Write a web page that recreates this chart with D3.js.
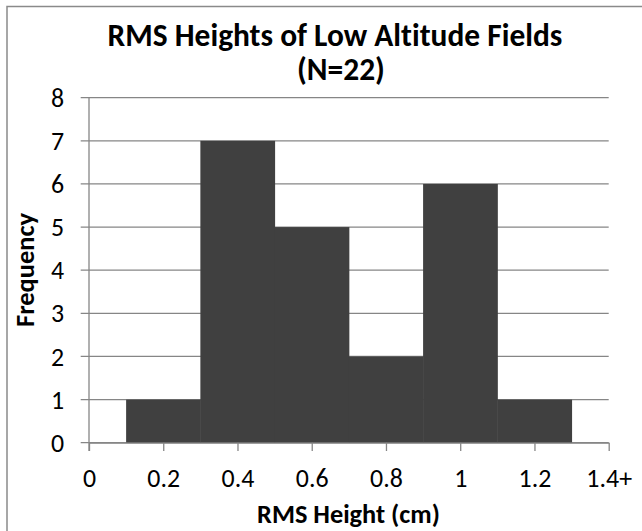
<!DOCTYPE html>
<html>
<head>
<meta charset="utf-8">
<script src="https://cdn.jsdelivr.net/npm/d3@7"></script>
<style>
  html, body { margin: 0; padding: 0; background: #fff; }
  svg { display: block; font-family: Carlito, Calibri, Lato, "Open Sans", sans-serif; font-variant-ligatures: none; }
</style>
</head>
<body>
<svg id="chart" width="642" height="531"></svg>
<script>
// Histogram bins: lower/upper edges and frequency of each bin
const binLower = [0.1, 0.3, 0.5, 0.7, 0.9, 1.1];
const binUpper = [0.3, 0.5, 0.7, 0.9, 1.1, 1.3];
const frequency = [1, 7, 5, 2, 6, 1];

// Axis ticks
const xTickValues = [0, 0.2, 0.4, 0.6, 0.8, 1.0, 1.2, 1.4];
const xTickLabels = ["0", "0.2", "0.4", "0.6", "0.8", "1", "1.2", "1.4+"];
const yTickValues = [0, 1, 2, 3, 4, 5, 6, 7, 8];

const titleLines = ["RMS Heights of Low Altitude Fields", "(N=22)"];
const xTitle = "RMS Height (cm)";
const yTitle = "Frequency";

const svg = d3.select("#chart");
const gridColor = "#868686";

// Text that is sized so its width fits a given span
function fitText(sel, width) {
  const w = sel.node().getComputedTextLength();
  const fs = parseFloat(sel.style("font-size"));
  sel.style("font-size", (fs * width / w) + "px");
  return sel.style("font-size");
}

// Tick label size: the widest label spans about 46px
const probe = svg.append("text").style("font-size", "20px").text(xTickLabels[xTickLabels.length - 1]);
const tickFont = fitText(probe, 45.7);
probe.remove();

// Plot area
const plotLeft = 89, plotRight = 608.7, plotTop = 97.7, plotBottom = 442.7;
const x = d3.scaleLinear().domain([0, 1.4]).range([plotLeft, plotRight]);
const y = d3.scaleLinear().domain([0, 8]).range([plotBottom, plotTop]);

// Outer chart frame (runs past the right and bottom edges)
svg.append("rect")
  .attr("x", 7).attr("y", 6.5)
  .attr("width", 700).attr("height", 600)
  .attr("fill", "none")
  .attr("stroke", "#8a8a8a")
  .attr("stroke-width", 1.5);

// Horizontal gridlines, each with a short tick to the left of the axis
svg.append("g")
  .selectAll("line")
  .data(yTickValues)
  .join("line")
  .attr("x1", plotLeft - 8.3).attr("x2", plotRight)
  .attr("y1", d => y(d)).attr("y2", d => y(d))
  .attr("stroke", gridColor)
  .attr("stroke-width", 1.3);

// Bars
const bins = frequency.map((f, i) => ({ lo: binLower[i], hi: binUpper[i], f }));
svg.append("g")
  .selectAll("rect")
  .data(bins)
  .join("rect")
  .attr("x", d => x(d.lo))
  .attr("width", d => x(d.hi) - x(d.lo) + 0.5)
  .attr("y", d => y(d.f))
  .attr("height", d => y(0) - y(d.f))
  .attr("fill", "#404040");

// Bottom axis
const xAxis = svg.append("g")
  .attr("transform", `translate(0,${plotBottom})`)
  .call(d3.axisBottom(x)
    .tickValues(xTickValues)
    .tickFormat((d, i) => xTickLabels[i])
    .tickSize(8.3)
    .tickSizeOuter(0));
xAxis.attr("font-family", null).attr("font-size", null);
xAxis.select(".domain").attr("stroke", gridColor).attr("stroke-width", 1.3);
xAxis.selectAll(".tick line").attr("stroke", gridColor).attr("stroke-width", 1.3);
xAxis.selectAll(".tick text")
  .attr("y", 478 - plotBottom).attr("dy", "0.35em")
  .attr("fill", "#000")
  .style("font-size", tickFont);

// Left axis line and labels
svg.append("line")
  .attr("x1", plotLeft).attr("x2", plotLeft)
  .attr("y1", plotTop).attr("y2", plotBottom + 8.3)
  .attr("stroke", gridColor)
  .attr("stroke-width", 1.3);

svg.append("g")
  .selectAll("text")
  .data(yTickValues)
  .join("text")
  .attr("x", 64)
  .attr("y", d => y(d))
  .attr("dy", "0.35em")
  .attr("text-anchor", "end")
  .style("font-size", tickFont)
  .text(d => d);

// Chart title
const t1 = svg.append("text")
  .attr("x", 335).attr("y", 45.7)
  .attr("text-anchor", "middle")
  .style("font-weight", "bold").style("font-size", "24px")
  .text(titleLines[0]);
fitText(t1, 455);
svg.append("text")
  .attr("x", 341).attr("y", 79.5)
  .attr("text-anchor", "middle")
  .style("font-weight", "bold").style("font-size", t1.style("font-size"))
  .text(titleLines[1]);

// Axis titles
const xt = svg.append("text")
  .attr("x", 348.5).attr("y", 522.7)
  .attr("text-anchor", "middle")
  .style("font-weight", "bold").style("font-size", "20px")
  .text(xTitle);
fitText(xt, 183);

const yt = svg.append("text")
  .attr("transform", "translate(34.3,270) rotate(-90)")
  .attr("text-anchor", "middle")
  .style("font-weight", "bold").style("font-size", "20px")
  .text(yTitle);
fitText(yt, 114);
</script>
</body>
</html>
